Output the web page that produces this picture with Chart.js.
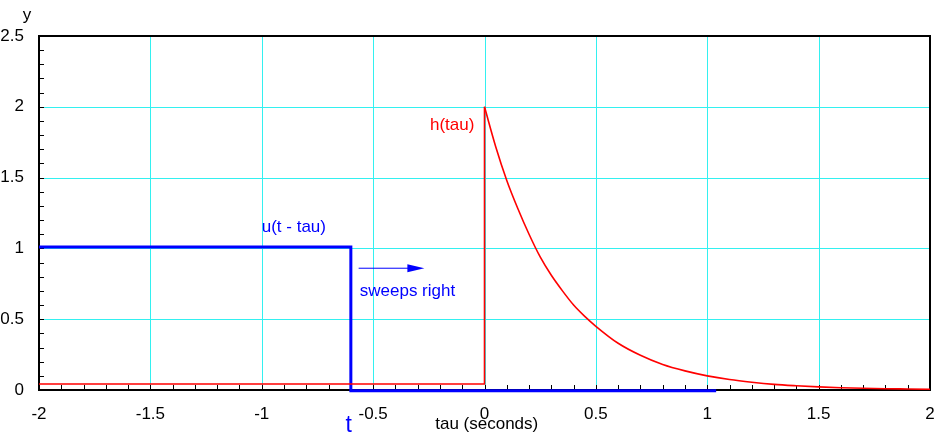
<!DOCTYPE html>
<html>
<head>
<meta charset="utf-8">
<script src="https://cdn.jsdelivr.net/npm/chart.js@4.4.0/dist/chart.umd.min.js"></script>
<style>
  html, body { margin: 0; padding: 0; background: #fff; }
  #wrap { width: 935px; height: 436px; }
</style>
</head>
<body>
<div id="wrap"><canvas id="c"></canvas></div>
<script>
// Values
const stepTau = [-2, 0, 0];
const stepVal = [0.042, 0.042, 2.0];
const decayTau = [0, 0.05, 0.1, 0.15, 0.2, 0.25, 0.3, 0.35, 0.4, 0.45, 0.5, 0.6, 0.7, 0.8, 0.9, 1.0, 1.1, 1.2, 1.3, 1.4, 1.5, 1.6, 1.7, 1.8, 1.9, 2.0];
const decayVal = [2.0, 1.72, 1.48, 1.28, 1.10, 0.94, 0.81, 0.70, 0.60, 0.52, 0.45, 0.33, 0.245, 0.18, 0.135, 0.10, 0.074, 0.055, 0.04, 0.03, 0.022, 0.016, 0.012, 0.009, 0.007, 0.005];
const uTau = [-2, -0.6, -0.6, 1.04];
const uVal = [1.01, 1.01, -0.006, -0.006];
const xTicks = [-2, -1.5, -1, -0.5, 0, 0.5, 1, 1.5, 2];
const yTicks = [0, 0.5, 1, 1.5, 2, 2.5];

const FONT = "'Liberation Sans', Arial, Helvetica, sans-serif";

function toPoints(xs, ys) {
  return xs.map((x, i) => ({ x: x, y: ys[i] }));
}

// grid, frame and minor ticks, behind the data
const frame = {
  id: "frame",
  beforeDatasetsDraw(chart) {
    const ctx = chart.ctx;
    const a = chart.chartArea;
    const xs = chart.scales.x;
    const ys = chart.scales.y;
    ctx.save();
    ctx.strokeStyle = "#33f0f0";
    ctx.lineWidth = 1;
    ctx.beginPath();
    xTicks.forEach((v) => {
      const px = Math.round(xs.getPixelForValue(v)) + 0.5;
      ctx.moveTo(px, a.top);
      ctx.lineTo(px, a.bottom);
    });
    yTicks.forEach((v) => {
      const py = Math.round(ys.getPixelForValue(v)) + 0.5;
      ctx.moveTo(a.left, py);
      ctx.lineTo(a.right, py);
    });
    ctx.stroke();

    // minor ticks, inside the frame
    ctx.strokeStyle = "#000";
    ctx.beginPath();
    for (let i = -20; i <= 20; i++) {
      const px = Math.round(xs.getPixelForValue(i / 10)) + 0.5;
      ctx.moveTo(px, a.bottom);
      ctx.lineTo(px, a.bottom - 5);
    }
    for (let i = 0; i <= 25; i++) {
      const py = Math.round(ys.getPixelForValue(i / 10)) + 0.5;
      ctx.moveTo(a.left, py);
      ctx.lineTo(a.left + 5, py);
    }
    ctx.stroke();

    ctx.lineWidth = 2;
    ctx.strokeRect(a.left, a.top, a.right - a.left, a.bottom - a.top);
    ctx.restore();
  }
};

// arrow and text labels
const labels = {
  id: "labels",
  afterDraw(chart) {
    const ctx = chart.ctx;
    const xs = chart.scales.x;
    const ys = chart.scales.y;
    ctx.save();

    const ay = ys.getPixelForValue(0.86);
    const ax0 = xs.getPixelForValue(-0.565);
    const ax1 = xs.getPixelForValue(-0.27);
    ctx.strokeStyle = "#0000ff";
    ctx.fillStyle = "#0000ff";
    ctx.lineWidth = 1;
    ctx.beginPath();
    ctx.moveTo(ax0, ay);
    ctx.lineTo(ax1 - 10, ay);
    ctx.stroke();
    ctx.beginPath();
    ctx.moveTo(ax1, ay);
    ctx.lineTo(ax1 - 17, ay - 4);
    ctx.lineTo(ax1 - 17, ay + 4);
    ctx.closePath();
    ctx.fill();

    ctx.textBaseline = "middle";
    ctx.textAlign = "left";
    ctx.font = "17px " + FONT;
    ctx.fillText("sweeps right", xs.getPixelForValue(-0.56), ys.getPixelForValue(0.695));
    ctx.fillText("u(t - tau)", xs.getPixelForValue(-1.0), ys.getPixelForValue(1.15));
    ctx.fillStyle = "#ff0000";
    ctx.fillText("h(tau)", xs.getPixelForValue(-0.245), ys.getPixelForValue(1.87));

    ctx.fillStyle = "#000";
    ctx.textAlign = "center";
    ctx.fillText("y", 27, 15);
    ctx.fillText("tau (seconds)", xs.getPixelForValue(0.01), 424);
    ctx.fillStyle = "#0000ff";
    ctx.font = "23px " + FONT;
    ctx.fillText("t", xs.getPixelForValue(-0.61), 426);
    ctx.restore();
  }
};

new Chart(document.getElementById("c"), {
  type: "scatter",
  data: {
    datasets: [
      {
        label: "h(tau) step",
        data: toPoints(stepTau, stepVal),
        showLine: true,
        borderColor: "#ff0000",
        borderWidth: 1.6,
        pointRadius: 0,
        tension: 0,
      },
      {
        label: "h(tau)",
        data: toPoints(decayTau, decayVal),
        showLine: true,
        borderColor: "#ff0000",
        borderWidth: 1.6,
        pointRadius: 0,
        cubicInterpolationMode: "monotone",
      },
      {
        label: "u(t - tau)",
        data: toPoints(uTau, uVal),
        showLine: true,
        borderColor: "#0000ff",
        borderWidth: 3,
        pointRadius: 0,
        tension: 0,
        clip: false,
      },
    ],
  },
  options: {
    responsive: true,
    maintainAspectRatio: false,
    animation: false,
    layout: { padding: { left: 0, top: 36, right: 5, bottom: 0 } },
    plugins: {
      legend: { display: false },
      tooltip: { enabled: false },
    },
    scales: {
      x: {
        type: "linear",
        min: -2,
        max: 2,
        afterBuildTicks: (s) => { s.ticks = xTicks.map((v) => ({ value: v })); },
        afterFit: (s) => { s.height = 46; s.paddingLeft = 0; s.paddingRight = 0; },
        grid: { display: false },
        border: { display: false },
        ticks: {
          padding: 6,
          color: "#000",
          font: { size: 17, family: FONT },
          maxRotation: 0,
          callback: (v) => String(v),
        },
      },
      y: {
        type: "linear",
        min: 0,
        max: 2.5,
        afterBuildTicks: (s) => { s.ticks = yTicks.map((v) => ({ value: v })); },
        afterFit: (s) => { s.width = 39; s.paddingTop = 0; s.paddingBottom = 0; },
        grid: { display: false },
        border: { display: false },
        ticks: {
          padding: 7,
          color: "#000",
          font: { size: 17, family: FONT },
          callback: (v) => String(v),
        },
      },
    },
  },
  plugins: [frame, labels],
});
</script>
</body>
</html>
